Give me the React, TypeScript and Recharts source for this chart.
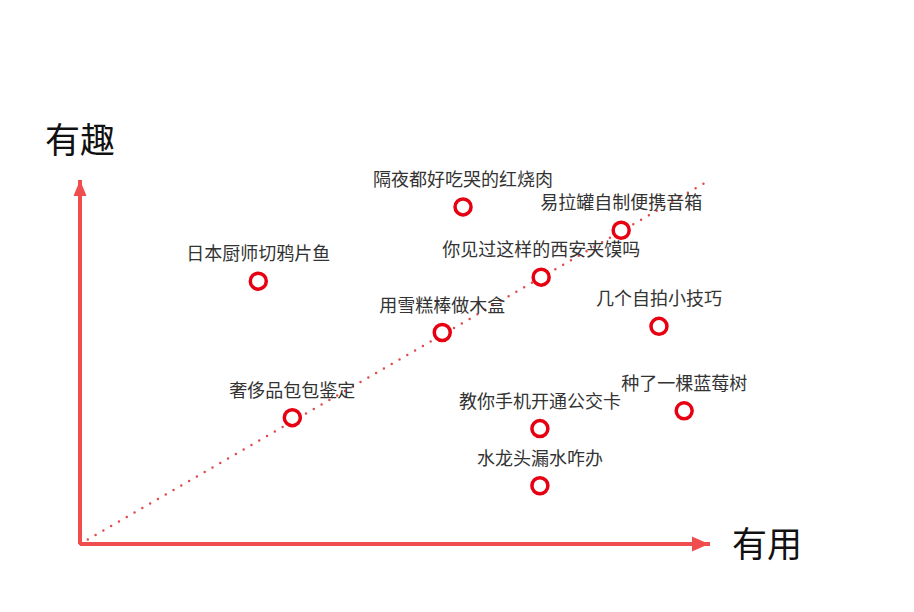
import React from 'react';
import {
  ScatterChart,
  Scatter,
  XAxis,
  YAxis,
  ReferenceLine,
  ReferenceDot,
} from 'recharts';

// x = 有用, y = 有趣 (0-100)
const topics = [
  '日本厨师切鸦片鱼',
  '隔夜都好吃哭的红烧肉',
  '易拉罐自制便携音箱',
  '你见过这样的西安夹馍吗',
  '用雪糕棒做木盒',
  '几个自拍小技巧',
  '奢侈品包包鉴定',
  '教你手机开通公交卡',
  '种了一棵蓝莓树',
  '水龙头漏水咋办',
];
const usefulness = [28.3, 60.8, 85.9, 73.2, 57.5, 91.9, 33.7, 73.0, 95.9, 73.0];
const fun = [72.2, 92.6, 86.2, 73.3, 58.1, 59.8, 34.7, 31.7, 36.6, 16.0];

const trendStart = { x: 0, y: 0 };
const trendEnd = { x: 99.4, y: 99.4 };

const AXIS_RED = '#f04e4e';
const DOT_RED = '#e60012';
const FONT = '"Noto Sans CJK SC", "Noto Sans", sans-serif';

const data = topics.map((name, i) => ({ name, x: usefulness[i], y: fun[i] }));

function TopicDot(props: any) {
  const { cx, cy, payload } = props;
  return (
    <g>
      <text
        x={cx}
        y={cy - 29}
        textAnchor="middle"
        dominantBaseline="central"
        fontSize={18}
        fill="#333"
        fontFamily={FONT}
      >
        {payload.name}
      </text>
      <circle cx={cx} cy={cy} r={8} fill="#fff" stroke={DOT_RED} strokeWidth={3.5} />
    </g>
  );
}

function UpArrow(props: any) {
  const { cx, cy } = props;
  return (
    <g>
      <polygon points={`${cx},${cy} ${cx - 6.5},${cy + 16} ${cx + 6.5},${cy + 16}`} fill={AXIS_RED} />
      <text x={cx} y={cy - 43} textAnchor="middle" dominantBaseline="central" fontSize={35} fill="#111" fontFamily={FONT}>
        有趣
      </text>
    </g>
  );
}

function RightArrow(props: any) {
  const { cx, cy } = props;
  return (
    <g>
      <polygon points={`${cx - 1},${cy} ${cx - 18},${cy - 7.5} ${cx - 18},${cy + 7.5}`} fill={AXIS_RED} />
      <text x={cx + 57} y={cy - 3} textAnchor="middle" dominantBaseline="central" fontSize={35} fill="#111" fontFamily={FONT}>
        有用
      </text>
    </g>
  );
}

export default function App() {
  return (
    <div style={{ position: 'absolute', left: 0, top: 0, width: 914, height: 612, background: '#fff' }}>
      <ScatterChart width={914} height={612} margin={{ top: 180, right: 204, bottom: 68, left: 80 }}>
        <XAxis type="number" dataKey="x" domain={[0, 100]} hide />
        <YAxis type="number" dataKey="y" domain={[0, 100]} hide />
        <ReferenceLine
          segment={[trendStart, trendEnd]}
          stroke="#e04a4a"
          strokeWidth={2.5}
          strokeDasharray="0 9"
          strokeLinecap="round"
        />
        <ReferenceLine x={0} stroke={AXIS_RED} strokeWidth={4} />
        <ReferenceLine y={0} stroke={AXIS_RED} strokeWidth={4} />
        <ReferenceDot x={0} y={100} r={0} shape={UpArrow} />
        <ReferenceDot x={100} y={0} r={0} shape={RightArrow} />
        <Scatter data={data} shape={TopicDot} isAnimationActive={false} />
      </ScatterChart>
    </div>
  );
}
